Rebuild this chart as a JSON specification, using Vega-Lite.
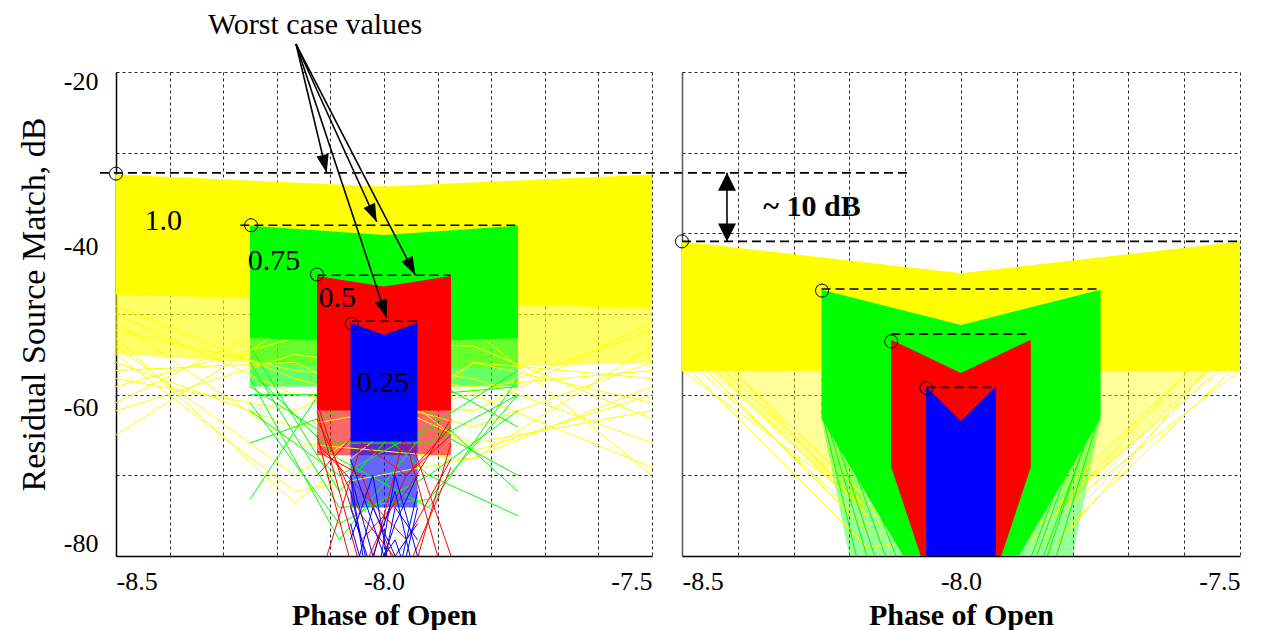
{
"$schema": "https://vega.github.io/schema/vega-lite/v6.json",
"background": "white",
"padding": {"left": 17, "top": 9, "right": 5, "bottom": 0},
"bounds": "flush",
"spacing": 30,
"config": {
  "font": "Liberation Serif",
  "view": {"stroke": null},
  "text": {"font": "Liberation Serif"},
  "axis": {"labelFont": "Liberation Serif", "labelFontSize": 26, "labelColor": "#000", "titleFont": "Liberation Serif", "titleColor": "#000", "domainColor": "#000", "domainWidth": 1.5, "ticks": false, "gridColor": "#000", "gridDash": [3, 3], "gridWidth": 1, "gridOpacity": 0.85}
},
"datasets": {
  "areaL": [
    {"b":"Y","x":-8.5,"y":-32.7,"y2":-47.6},{"b":"Y","x":-8.0,"y":-34.2,"y2":-48.5},{"b":"Y","x":-7.5,"y":-32.7,"y2":-49.3},
    {"b":"G","x":-8.25,"y":-39.05,"y2":-53},{"b":"G","x":-8.0,"y":-40.2,"y2":-53.5},{"b":"G","x":-7.75,"y":-39.05,"y2":-53},
    {"b":"R","x":-8.125,"y":-45.3,"y2":-62},{"b":"R","x":-8.0,"y":-46.6,"y2":-62},{"b":"R","x":-7.875,"y":-45.3,"y2":-62},
    {"b":"B","x":-8.0625,"y":-51.1,"y2":-65.8},{"b":"B","x":-8.0,"y":-52.6,"y2":-65.8},{"b":"B","x":-7.9375,"y":-51.1,"y2":-65.8}
  ],
  "softL": [
    {"b":"Y","g":1,"x":-8.5,"y":-47.6,"y2":-55},{"b":"Y","g":1,"x":-8.0,"y":-48.5,"y2":-57},{"b":"Y","g":1,"x":-7.5,"y":-49.3,"y2":-56},
    {"b":"G","g":2,"x":-8.25,"y":-53,"y2":-59},{"b":"G","g":2,"x":-7.75,"y":-53,"y2":-59},
    {"b":"R","g":3,"x":-8.125,"y":-62,"y2":-67.5},{"b":"R","g":3,"x":-7.875,"y":-62,"y2":-67.5},
    {"b":"B","g":4,"x":-8.0625,"y":-65.8,"y2":-74},{"b":"B","g":4,"x":-7.9375,"y":-65.8,"y2":-74}
  ],
  "trL": [
    {"b":"Y","t":1,"x":-8.5,"y":-53},{"b":"Y","t":1,"x":-8.1667,"y":-73.4},{"b":"Y","t":1,"x":-7.8333,"y":-56},{"b":"Y","t":1,"x":-7.5,"y":-58},
    {"b":"Y","t":2,"x":-8.5,"y":-55},{"b":"Y","t":2,"x":-8.1667,"y":-72},{"b":"Y","t":2,"x":-7.8333,"y":-67.8},{"b":"Y","t":2,"x":-7.5,"y":-59},
    {"b":"Y","t":3,"x":-8.5,"y":-65},{"b":"Y","t":3,"x":-8.1667,"y":-51},{"b":"Y","t":3,"x":-7.8333,"y":-60},{"b":"Y","t":3,"x":-7.5,"y":-69},
    {"b":"Y","t":4,"x":-8.5,"y":-61},{"b":"Y","t":4,"x":-8.1667,"y":-50},{"b":"Y","t":4,"x":-7.8333,"y":-67},{"b":"Y","t":4,"x":-7.5,"y":-60},
    {"b":"Y","t":5,"x":-8.5,"y":-58},{"b":"Y","t":5,"x":-8.1667,"y":-62},{"b":"Y","t":5,"x":-7.8333,"y":-52},{"b":"Y","t":5,"x":-7.5,"y":-70},
    {"b":"Y","t":6,"x":-8.5,"y":-51},{"b":"Y","t":6,"x":-8.1667,"y":-66},{"b":"Y","t":6,"x":-7.8333,"y":-68},{"b":"Y","t":6,"x":-7.5,"y":-54},
    {"b":"Y","t":7,"x":-8.5,"y":-57},{"b":"Y","t":7,"x":-8.1667,"y":-56},{"b":"Y","t":7,"x":-7.8333,"y":-66},{"b":"Y","t":7,"x":-7.5,"y":-62},
    {"b":"Y","t":8,"x":-8.5,"y":-50},{"b":"Y","t":8,"x":-8.1667,"y":-60},{"b":"Y","t":8,"x":-7.8333,"y":-62},{"b":"Y","t":8,"x":-7.5,"y":-51},
    {"b":"Y","t":9,"x":-8.5,"y":-62},{"b":"Y","t":9,"x":-8.1667,"y":-55},{"b":"Y","t":9,"x":-7.8333,"y":-58},{"b":"Y","t":9,"x":-7.5,"y":-66},
    {"b":"Y","t":10,"x":-8.5,"y":-54},{"b":"Y","t":10,"x":-8.1667,"y":-70},{"b":"Y","t":10,"x":-7.8333,"y":-56},{"b":"Y","t":10,"x":-7.5,"y":-61},
    {"b":"Y","t":11,"x":-8.5,"y":-49},{"b":"Y","t":11,"x":-8.1667,"y":-58},{"b":"Y","t":11,"x":-7.8333,"y":-64},{"b":"Y","t":11,"x":-7.5,"y":-56},
    {"b":"Y","t":12,"x":-8.5,"y":-56},{"b":"Y","t":12,"x":-8.1667,"y":-64},{"b":"Y","t":12,"x":-7.8333,"y":-60},{"b":"Y","t":12,"x":-7.5,"y":-52},
    {"b":"Y","t":13,"x":-8.5,"y":-59},{"b":"Y","t":13,"x":-8.1667,"y":-53},{"b":"Y","t":13,"x":-7.8333,"y":-54},{"b":"Y","t":13,"x":-7.5,"y":-63},
    {"b":"Y","t":14,"x":-8.5,"y":-52},{"b":"Y","t":14,"x":-8.1667,"y":-57},{"b":"Y","t":14,"x":-7.8333,"y":-59},{"b":"Y","t":14,"x":-7.5,"y":-57},
    {"b":"G","t":21,"x":-8.25,"y":-58},{"b":"G","t":21,"x":-8.0833,"y":-78},{"b":"G","t":21,"x":-7.9167,"y":-64},{"b":"G","t":21,"x":-7.75,"y":-57},
    {"b":"G","t":22,"x":-8.25,"y":-56},{"b":"G","t":22,"x":-8.0833,"y":-74},{"b":"G","t":22,"x":-7.9167,"y":-73},{"b":"G","t":22,"x":-7.75,"y":-60},
    {"b":"G","t":23,"x":-8.25,"y":-73},{"b":"G","t":23,"x":-8.0833,"y":-56},{"b":"G","t":23,"x":-7.9167,"y":-62},{"b":"G","t":23,"x":-7.75,"y":-72},
    {"b":"G","t":24,"x":-8.25,"y":-61},{"b":"G","t":24,"x":-8.0833,"y":-76},{"b":"G","t":24,"x":-7.9167,"y":-70},{"b":"G","t":24,"x":-7.75,"y":-75},
    {"b":"G","t":25,"x":-8.25,"y":-57},{"b":"G","t":25,"x":-8.0833,"y":-68},{"b":"G","t":25,"x":-7.9167,"y":-74},{"b":"G","t":25,"x":-7.75,"y":-58},
    {"b":"G","t":26,"x":-8.25,"y":-60},{"b":"G","t":26,"x":-8.0833,"y":-60},{"b":"G","t":26,"x":-7.9167,"y":-70},{"b":"G","t":26,"x":-7.75,"y":-62},
    {"b":"G","t":27,"x":-8.25,"y":-66},{"b":"G","t":27,"x":-8.0833,"y":-62},{"b":"G","t":27,"x":-7.9167,"y":-58},{"b":"G","t":27,"x":-7.75,"y":-64},
    {"b":"G","t":28,"x":-8.25,"y":-54},{"b":"G","t":28,"x":-8.0833,"y":-72},{"b":"G","t":28,"x":-7.9167,"y":-60},{"b":"G","t":28,"x":-7.75,"y":-59},
    {"b":"G","t":29,"x":-8.25,"y":-59},{"b":"G","t":29,"x":-8.0833,"y":-66},{"b":"G","t":29,"x":-7.9167,"y":-66},{"b":"G","t":29,"x":-7.75,"y":-60},
    {"b":"G","t":30,"x":-8.25,"y":-62},{"b":"G","t":30,"x":-8.0833,"y":-70},{"b":"G","t":30,"x":-7.9167,"y":-64},{"b":"G","t":30,"x":-7.75,"y":-70},
    {"b":"R","t":31,"x":-8.125,"y":-62},{"b":"R","t":31,"x":-8.0417,"y":-82},{"b":"R","t":31,"x":-7.9583,"y":-70},{"b":"R","t":31,"x":-7.875,"y":-64},
    {"b":"R","t":32,"x":-8.125,"y":-67},{"b":"R","t":32,"x":-8.0417,"y":-70},{"b":"R","t":32,"x":-7.9583,"y":-85},{"b":"R","t":32,"x":-7.875,"y":-66},
    {"b":"R","t":33,"x":-8.125,"y":-65},{"b":"R","t":33,"x":-8.0417,"y":-86},{"b":"R","t":33,"x":-7.9583,"y":-64},{"b":"R","t":33,"x":-7.875,"y":-80},
    {"b":"R","t":34,"x":-8.125,"y":-84},{"b":"R","t":34,"x":-8.0417,"y":-66},{"b":"R","t":34,"x":-7.9583,"y":-70},{"b":"R","t":34,"x":-7.875,"y":-65},
    {"b":"R","t":35,"x":-8.125,"y":-63},{"b":"R","t":35,"x":-8.0417,"y":-75},{"b":"R","t":35,"x":-7.9583,"y":-82},{"b":"R","t":35,"x":-7.875,"y":-69},
    {"b":"R","t":36,"x":-8.125,"y":-70},{"b":"R","t":36,"x":-8.0417,"y":-64},{"b":"R","t":36,"x":-7.9583,"y":-66},{"b":"R","t":36,"x":-7.875,"y":-86},
    {"b":"R","t":37,"x":-8.125,"y":-61},{"b":"R","t":37,"x":-8.0417,"y":-78},{"b":"R","t":37,"x":-7.9583,"y":-72},{"b":"R","t":37,"x":-7.875,"y":-63},
    {"b":"R","t":38,"x":-8.125,"y":-66},{"b":"R","t":38,"x":-8.0417,"y":-72},{"b":"R","t":38,"x":-7.9583,"y":-78},{"b":"R","t":38,"x":-7.875,"y":-68},
    {"b":"B","t":41,"x":-8.0625,"y":-72},{"b":"B","t":41,"x":-8.0208,"y":-84},{"b":"B","t":41,"x":-7.9792,"y":-76},{"b":"B","t":41,"x":-7.9375,"y":-70},
    {"b":"B","t":42,"x":-8.0625,"y":-78},{"b":"B","t":42,"x":-8.0208,"y":-70},{"b":"B","t":42,"x":-7.9792,"y":-86},{"b":"B","t":42,"x":-7.9375,"y":-74},
    {"b":"B","t":43,"x":-8.0625,"y":-70},{"b":"B","t":43,"x":-8.0208,"y":-80},{"b":"B","t":43,"x":-7.9792,"y":-72},{"b":"B","t":43,"x":-7.9375,"y":-84},
    {"b":"B","t":44,"x":-8.0625,"y":-84},{"b":"B","t":44,"x":-8.0208,"y":-74},{"b":"B","t":44,"x":-7.9792,"y":-80},{"b":"B","t":44,"x":-7.9375,"y":-76},
    {"b":"B","t":45,"x":-8.0625,"y":-68},{"b":"B","t":45,"x":-8.0208,"y":-76},{"b":"B","t":45,"x":-7.9792,"y":-84},{"b":"B","t":45,"x":-7.9375,"y":-72},
    {"b":"B","t":46,"x":-8.0625,"y":-76},{"b":"B","t":46,"x":-8.0208,"y":-86},{"b":"B","t":46,"x":-7.9792,"y":-70},{"b":"B","t":46,"x":-7.9375,"y":-80},
    {"b":"B","t":47,"x":-8.0625,"y":-74},{"b":"B","t":47,"x":-8.0208,"y":-82},{"b":"B","t":47,"x":-7.9792,"y":-78},{"b":"B","t":47,"x":-7.9375,"y":-86},
    {"b":"B","t":48,"x":-8.0625,"y":-70},{"b":"B","t":48,"x":-8.0208,"y":-88},{"b":"B","t":48,"x":-7.9792,"y":-74},{"b":"B","t":48,"x":-7.9375,"y":-78}
  ],
  "areaR": [
    {"b":"Y","x":-8.5,"y":-41.0,"y2":-57.1},{"b":"Y","x":-8.0,"y":-44.95,"y2":-57},{"b":"Y","x":-7.5,"y":-41.0,"y2":-57.1},
    {"b":"G","x":-8.25,"y":-47.0,"y2":-63},{"b":"G","x":-8.0,"y":-51.35,"y2":-92},{"b":"G","x":-7.75,"y":-47.0,"y2":-63},
    {"b":"R","x":-8.125,"y":-53.2,"y2":-69},{"b":"R","x":-8.0,"y":-57.3,"y2":-95},{"b":"R","x":-7.875,"y":-53.2,"y2":-69},
    {"b":"B","x":-8.0625,"y":-59.0,"y2":-90},{"b":"B","x":-8.0,"y":-63.3,"y2":-90},{"b":"B","x":-7.9375,"y":-59.0,"y2":-90}
  ],
  "softR": [
    {"b":"Y","g":5,"x":-8.45,"y":-57,"y2":-57},{"b":"Y","g":5,"x":-8.25,"y":-57,"y2":-69.7},{"b":"Y","g":5,"x":-8.167,"y":-75,"y2":-75},
    {"b":"Y","g":6,"x":-7.833,"y":-75,"y2":-75},{"b":"Y","g":6,"x":-7.75,"y":-57,"y2":-69.7},{"b":"Y","g":6,"x":-7.55,"y":-57,"y2":-57},
    {"b":"G","g":1,"x":-8.25,"y":-63,"y2":-63},{"b":"G","g":1,"x":-8.2,"y":-68.8,"y2":-80},{"b":"G","g":1,"x":-8.103,"y":-80,"y2":-80},
    {"b":"G","g":2,"x":-7.897,"y":-80,"y2":-80},{"b":"G","g":2,"x":-7.8,"y":-68.8,"y2":-80},{"b":"G","g":2,"x":-7.75,"y":-63,"y2":-63}
  ],
  "trR": [
    {"b":"Y","t":1,"x":-8.5,"y":-50},{"b":"Y","t":1,"x":-8.1667,"y":-75},{"b":"Y","t":1,"x":-7.8333,"y":-75},{"b":"Y","t":1,"x":-7.5,"y":-50},
    {"b":"Y","t":2,"x":-8.5,"y":-52},{"b":"Y","t":2,"x":-8.1667,"y":-74},{"b":"Y","t":2,"x":-7.8333,"y":-76},{"b":"Y","t":2,"x":-7.5,"y":-53},
    {"b":"Y","t":3,"x":-8.5,"y":-55},{"b":"Y","t":3,"x":-8.1667,"y":-76},{"b":"Y","t":3,"x":-7.8333,"y":-74},{"b":"Y","t":3,"x":-7.5,"y":-55},
    {"b":"Y","t":4,"x":-8.5,"y":-51},{"b":"Y","t":4,"x":-8.1667,"y":-73},{"b":"Y","t":4,"x":-7.8333,"y":-79},{"b":"Y","t":4,"x":-7.5,"y":-52},
    {"b":"Y","t":5,"x":-8.5,"y":-56},{"b":"Y","t":5,"x":-8.1667,"y":-79},{"b":"Y","t":5,"x":-7.8333,"y":-75},{"b":"Y","t":5,"x":-7.5,"y":-57},
    {"b":"Y","t":6,"x":-8.5,"y":-53},{"b":"Y","t":6,"x":-8.1667,"y":-75},{"b":"Y","t":6,"x":-7.8333,"y":-73},{"b":"Y","t":6,"x":-7.5,"y":-51},
    {"b":"Y","t":7,"x":-8.5,"y":-54},{"b":"Y","t":7,"x":-8.1667,"y":-77},{"b":"Y","t":7,"x":-7.8333,"y":-77},{"b":"Y","t":7,"x":-7.5,"y":-54},
    {"b":"Y","t":8,"x":-8.5,"y":-57},{"b":"Y","t":8,"x":-8.1667,"y":-74},{"b":"Y","t":8,"x":-7.8333,"y":-78},{"b":"Y","t":8,"x":-7.5,"y":-56},
    {"b":"G","t":21,"x":-8.25,"y":-58},{"b":"G","t":21,"x":-8.0833,"y":-90},{"b":"G","t":21,"x":-7.9167,"y":-90},{"b":"G","t":21,"x":-7.75,"y":-58},
    {"b":"G","t":22,"x":-8.25,"y":-61},{"b":"G","t":22,"x":-8.0833,"y":-100},{"b":"G","t":22,"x":-7.9167,"y":-95},{"b":"G","t":22,"x":-7.75,"y":-60},
    {"b":"G","t":23,"x":-8.25,"y":-56},{"b":"G","t":23,"x":-8.0833,"y":-86},{"b":"G","t":23,"x":-7.9167,"y":-88},{"b":"G","t":23,"x":-7.75,"y":-57},
    {"b":"G","t":24,"x":-8.25,"y":-62},{"b":"G","t":24,"x":-8.0833,"y":-110},{"b":"G","t":24,"x":-7.9167,"y":-100},{"b":"G","t":24,"x":-7.75,"y":-62},
    {"b":"G","t":25,"x":-8.25,"y":-60},{"b":"G","t":25,"x":-8.0833,"y":-95},{"b":"G","t":25,"x":-7.9167,"y":-92},{"b":"G","t":25,"x":-7.75,"y":-61},
    {"b":"R","t":31,"x":-8.125,"y":-66},{"b":"R","t":31,"x":-8.0417,"y":-90},{"b":"R","t":31,"x":-7.9583,"y":-90},{"b":"R","t":31,"x":-7.875,"y":-66},
    {"b":"R","t":32,"x":-8.125,"y":-68},{"b":"R","t":32,"x":-8.0417,"y":-100},{"b":"R","t":32,"x":-7.9583,"y":-98},{"b":"R","t":32,"x":-7.875,"y":-68}
  ],
  "wlL": [{"x":-8.53,"x2":-7.019,"y":-32.5},{"x":-8.268,"x2":-7.748,"y":-39.0},{"x":-8.124,"x2":-7.876,"y":-45.2},{"x":-8.06,"x2":-7.936,"y":-50.9}],
  "cL": [{"x":-8.5,"y":-32.6},{"x":-8.248,"y":-39.0},{"x":-8.125,"y":-45.1},{"x":-8.06,"y":-51.2}],
  "wlR": [{"x":-8.5,"x2":-7.5,"y":-41.0},{"x":-8.25,"x2":-7.75,"y":-46.9},{"x":-8.125,"x2":-7.876,"y":-52.5},{"x":-8.062,"x2":-7.937,"y":-59.1}],
  "cR": [{"x":-8.5,"y":-41.0},{"x":-8.249,"y":-47.1},{"x":-8.125,"y":-53.4},{"x":-8.062,"y":-59.2}],
  "arL": [
    {"id":1,"x":-8.1642,"y":-16.53,"x2":-8.1069,"y2":-32.48},
    {"id":2,"x":-8.1642,"y":-16.53,"x2":-8.0136,"y2":-38.56},
    {"id":3,"x":-8.1642,"y":-16.53,"x2":-7.9416,"y2":-45.16},
    {"id":4,"x":-8.1642,"y":-16.53,"x2":-7.995,"y2":-50.46}
  ],
  "hdL": [{"id":1,"x":-8.1069,"y":-32.48},{"id":2,"x":-8.0136,"y":-38.56},{"id":3,"x":-7.9416,"y":-45.16},{"id":4,"x":-7.995,"y":-50.46}],
  "txL": [{"x":-8.412,"y":-38.5,"label":"1.0"},{"x":-8.205,"y":-43.4,"label":"0.75"},{"x":-8.087,"y":-48.0,"label":"0.5"},{"x":-8.002,"y":-58.6,"label":"0.25"}],
  "txT": [{"x":-8.1287,"y":-14.17,"label":"Worst case values"}],
  "arR": [{"x":-8.4194,"y":-32.5,"y2":-41.0}],
  "hdR": [{"id":1,"x":-8.4194,"y":-32.5},{"id":2,"x":-8.4194,"y":-41.0}],
  "txR": [{"x":-8.267,"y":-36.7,"label":"~ 10 dB"}]
},
"hconcat": [
  {
    "width": 536, "height": 484,
    "encoding": {
      "x": {"field": "x", "type": "quantitative", "scale": {"domain": [-8.5, -7.5], "nice": false, "zero": false},
        "axis": {"values": [-8.5,-8.4,-8.3,-8.2,-8.1,-8.0,-7.9,-7.8,-7.7,-7.6,-7.5], "labelExpr": "(datum.value == -8.5 || datum.value == -8 || datum.value == -7.5) ? replace(format(datum.value, '.1f'), '\u2212', '-') : ''", "labelFont": "Liberation Serif", "labelFontSize": 26, "title": "Phase of Open", "titleFont": "Liberation Serif", "titleFontSize": 30, "titleFontWeight": "bold", "labelPadding": 12, "titlePadding": 6}},
      "y": {"field": "y", "type": "quantitative", "scale": {"domain": [-80, -20], "nice": false, "zero": false},
        "axis": {"values": [-80,-70,-60,-50,-40,-30,-20], "labelExpr": "datum.value % 20 == 0 ? '' + datum.value : ''", "labelFont": "Liberation Serif", "labelFontSize": 26, "labelBaseline": {"condition": {"test": "datum.value == -80", "value": "bottom"}, "value": "top"}, "labelOffset": {"condition": {"test": "datum.value == -20", "value": -4}, "value": 0}, "title": "Residual Source Match, dB", "titleFont": "Liberation Serif", "titleFontSize": 34, "titleFontWeight": "normal", "titleY": 232, "labelPadding": 18, "titlePadding": 12}}
    },
    "layer": [
      {"data": {"name": "softL"}, "mark": {"type": "area", "clip": true, "opacity": 0.6},
       "encoding": {"y2": {"field": "y2"}, "detail": {"field": "g"}, "color": {"field": "b", "type": "nominal", "scale": {"domain": ["Y","G","R","B"], "range": ["#ffff00","#00ff00","#ff0000","#0000ff"]}, "legend": null}}},
      {"data": {"name": "trL"}, "mark": {"type": "line", "clip": true, "strokeWidth": 1},
       "encoding": {"detail": {"field": "t"}, "color": {"field": "b", "type": "nominal", "scale": {"domain": ["Y","G","R","B"], "range": ["#ffff00","#00ff00","#ff0000","#0000ff"]}, "legend": null}}},
      {"data": {"name": "areaL"}, "mark": {"type": "area", "clip": true, "opacity": 1},
       "encoding": {"y2": {"field": "y2"}, "color": {"field": "b", "type": "nominal", "scale": {"domain": ["Y","G","R","B"], "range": ["#ffff00","#00ff00","#ff0000","#0000ff"]}, "legend": null}}},
      {"data": {"name": "wlL"}, "mark": {"type": "rule", "color": "#000", "strokeWidth": 1.6, "strokeDash": [9, 5]},
       "encoding": {"x2": {"field": "x2"}}},
      {"data": {"name": "cL"}, "mark": {"type": "point", "shape": "circle", "filled": false, "color": "#000", "strokeWidth": 1, "size": 170, "opacity": 1}},
      {"data": {"name": "txL"}, "mark": {"type": "text", "fontSize": 30, "font": "Liberation Serif", "color": "#000", "baseline": "middle", "align": "center"},
       "encoding": {"text": {"field": "label"}}},
      {"data": {"name": "txT"}, "mark": {"type": "text", "fontSize": 30, "font": "Liberation Serif", "color": "#000", "baseline": "middle", "align": "center"},
       "encoding": {"text": {"field": "label"}}},
      {"data": {"name": "arL"}, "mark": {"type": "rule", "color": "#000", "strokeWidth": 1.6},
       "encoding": {"x2": {"field": "x2"}, "y2": {"field": "y2"}}},
      {"data": {"name": "hdL"}, "transform": [{"filter": "datum.id == 1"}], "mark": {"type": "point", "shape": "M0,0L0.7,2L-0.7,2Z", "filled": true, "color": "#000", "opacity": 1, "size": 324, "angle": 166.6, "strokeWidth": 0}},
      {"data": {"name": "hdL"}, "transform": [{"filter": "datum.id == 2"}], "mark": {"type": "point", "shape": "M0,0L0.7,2L-0.7,2Z", "filled": true, "color": "#000", "opacity": 1, "size": 324, "angle": 155.6, "strokeWidth": 0}},
      {"data": {"name": "hdL"}, "transform": [{"filter": "datum.id == 3"}], "mark": {"type": "point", "shape": "M0,0L0.7,2L-0.7,2Z", "filled": true, "color": "#000", "opacity": 1, "size": 324, "angle": 152.7, "strokeWidth": 0}},
      {"data": {"name": "hdL"}, "transform": [{"filter": "datum.id == 4"}], "mark": {"type": "point", "shape": "M0,0L0.7,2L-0.7,2Z", "filled": true, "color": "#000", "opacity": 1, "size": 324, "angle": 161.7, "strokeWidth": 0}}
    ]
  },
  {
    "width": 558, "height": 484,
    "encoding": {
      "x": {"field": "x", "type": "quantitative", "scale": {"domain": [-8.5, -7.5], "nice": false, "zero": false},
        "axis": {"values": [-8.5,-8.4,-8.3,-8.2,-8.1,-8.0,-7.9,-7.8,-7.7,-7.6,-7.5], "labelExpr": "(datum.value == -8.5 || datum.value == -8 || datum.value == -7.5) ? replace(format(datum.value, '.1f'), '\u2212', '-') : ''", "labelFont": "Liberation Serif", "labelFontSize": 26, "title": "Phase of Open", "titleFont": "Liberation Serif", "titleFontSize": 30, "titleFontWeight": "bold", "labelPadding": 12, "titlePadding": 6}},
      "y": {"field": "y", "type": "quantitative", "scale": {"domain": [-80, -20], "nice": false, "zero": false},
        "axis": {"values": [-80,-70,-60,-50,-40,-30,-20], "labels": false, "title": null, "domainColor": "#555"}}
    },
    "layer": [
      {"data": {"name": "softR"}, "mark": {"type": "area", "clip": true, "opacity": 0.4},
       "encoding": {"y2": {"field": "y2"}, "detail": {"field": "g"}, "color": {"field": "b", "type": "nominal", "scale": {"domain": ["Y","G","R","B"], "range": ["#ffff00","#00ff00","#ff0000","#0000ff"]}, "legend": null}}},
      {"data": {"name": "trR"}, "mark": {"type": "line", "clip": true, "strokeWidth": 1},
       "encoding": {"detail": {"field": "t"}, "color": {"field": "b", "type": "nominal", "scale": {"domain": ["Y","G","R","B"], "range": ["#ffff00","#00ff00","#ff0000","#0000ff"]}, "legend": null}}},
      {"data": {"name": "areaR"}, "mark": {"type": "area", "clip": true, "opacity": 1},
       "encoding": {"y2": {"field": "y2"}, "color": {"field": "b", "type": "nominal", "scale": {"domain": ["Y","G","R","B"], "range": ["#ffff00","#00ff00","#ff0000","#0000ff"]}, "legend": null}}},
      {"data": {"name": "wlR"}, "mark": {"type": "rule", "color": "#000", "strokeWidth": 1.6, "strokeDash": [9, 5]},
       "encoding": {"x2": {"field": "x2"}}},
      {"data": {"name": "cR"}, "mark": {"type": "point", "shape": "circle", "filled": false, "color": "#000", "strokeWidth": 1, "size": 170, "opacity": 1}},
      {"data": {"name": "arR"}, "mark": {"type": "rule", "color": "#000", "strokeWidth": 1.6},
       "encoding": {"y2": {"field": "y2"}}},
      {"data": {"name": "hdR"}, "transform": [{"filter": "datum.id == 1"}], "mark": {"type": "point", "shape": "M0,0L1,2L-1,2Z", "filled": true, "color": "#000", "opacity": 1, "size": 324, "angle": 0, "strokeWidth": 0}},
      {"data": {"name": "hdR"}, "transform": [{"filter": "datum.id == 2"}], "mark": {"type": "point", "shape": "M0,0L1,2L-1,2Z", "filled": true, "color": "#000", "opacity": 1, "size": 324, "angle": 180, "strokeWidth": 0}},
      {"data": {"name": "txR"}, "mark": {"type": "text", "fontSize": 30, "font": "Liberation Serif", "fontWeight": "bold", "color": "#000", "baseline": "middle", "align": "center"},
       "encoding": {"text": {"field": "label"}}}
    ]
  }
]
}
